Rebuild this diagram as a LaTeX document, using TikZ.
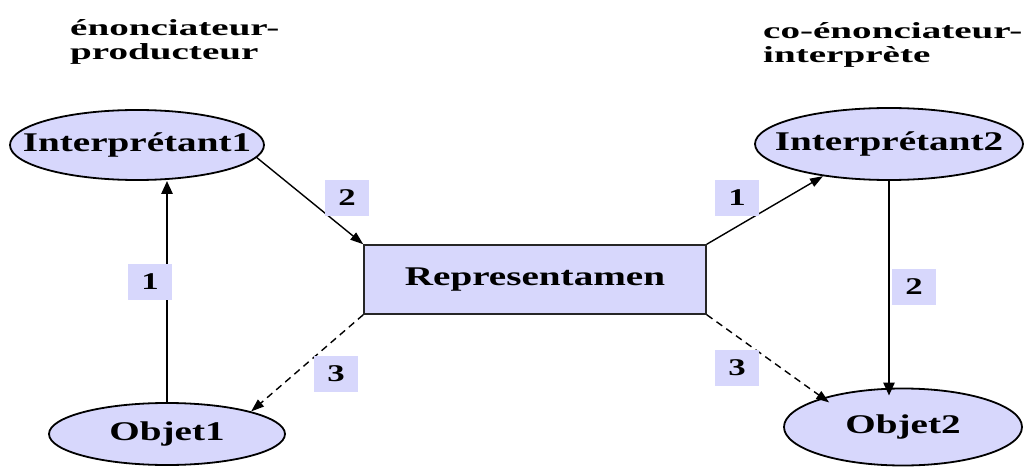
\documentclass[tikz,border=0pt]{standalone}
\usepackage{fontspec}
\setmainfont{Liberation Serif}[FakeStretch=1.45]
\newfontfamily\tfont{Liberation Serif}[FakeStretch=1.7]
\usetikzlibrary{shapes.geometric,arrows.meta}
\definecolor{lav}{RGB}{215,215,252}
\newcommand{\zb}[1]{\makebox[0pt]{#1}}
\tikzset{
  ell/.style={ellipse,draw=black,line width=1.8pt,fill=lav,inner sep=0pt,font=\fontsize{27}{27}\selectfont\bfseries},
  repbox/.style={rectangle,draw=black!85,line width=1.5pt,fill=lav,inner sep=0pt,font=\fontsize{27}{27}\selectfont\bfseries},
  lab/.style={rectangle,fill=lav,inner sep=0pt,minimum width=44pt,minimum height=36pt,font=\fontsize{24}{24}\selectfont\bfseries},
  ttl/.style={inner sep=0pt,align=left,anchor=base west,font=\tfont\fontsize{23}{24}\selectfont\bfseries},
  thick arrow/.style={line width=2.6pt,-{Triangle[length=13pt,width=11pt]}},
  thin arrow/.style={line width=1.4pt,-{Triangle[length=13pt,width=9pt]}},
  dash arrow/.style={line width=1.4pt,dash pattern=on 7pt off 5pt,-{Triangle[length=13pt,width=9pt]}}
}
\begin{document}
\begin{tikzpicture}[x=1pt,y=-1pt]
\useasboundingbox (0,0) rectangle (1031,468);
\node[ttl] (t1) at (70,60) {énonciateur-\\producteur};
\node[ttl] (t2) at (763,63) {co-énonciateur-\\interprète};
\node[ell,minimum width=254pt,minimum height=70pt] (i1) at (137,145) {\zb{Interprétant1}};
\node[ell,minimum width=268pt,minimum height=72pt] (i2) at (889,144) {\zb{Interprétant2}};
\node[ell,minimum width=236pt,minimum height=62pt] (o1) at (167,434) {\zb{Objet1}};
\node[ell,minimum width=238pt,minimum height=77pt] (o2) at (903,427) {\zb{Objet2}};
\node[repbox,minimum width=342pt,minimum height=69pt] (rep) at (535,279.5) {Representamen};
\draw[thick arrow] (o1.north) -- (o1.north |- i1.south);
\draw[thin arrow] (i1.-6) -- (rep.north west);
\draw[dash arrow] (rep.south west) -- (o1.15);
\draw[thin arrow] (rep.north east) -- (i2.206);
\draw[thick arrow,shorten >=-8pt] (i2.south) -- (i2.south |- o2.north);
\draw[dash arrow,shorten >=-8pt] (rep.south east) -- (o2.160);
\node[lab] (l2) at (347,198) {2};
\node[lab] (l1) at (150,282) {1};
\node[lab] (l3) at (336,374) {3};
\node[lab] (r1) at (737,198) {1};
\node[lab] (r2) at (914,287) {2};
\node[lab] (r3) at (737,368) {3};
\end{tikzpicture}
\end{document}
